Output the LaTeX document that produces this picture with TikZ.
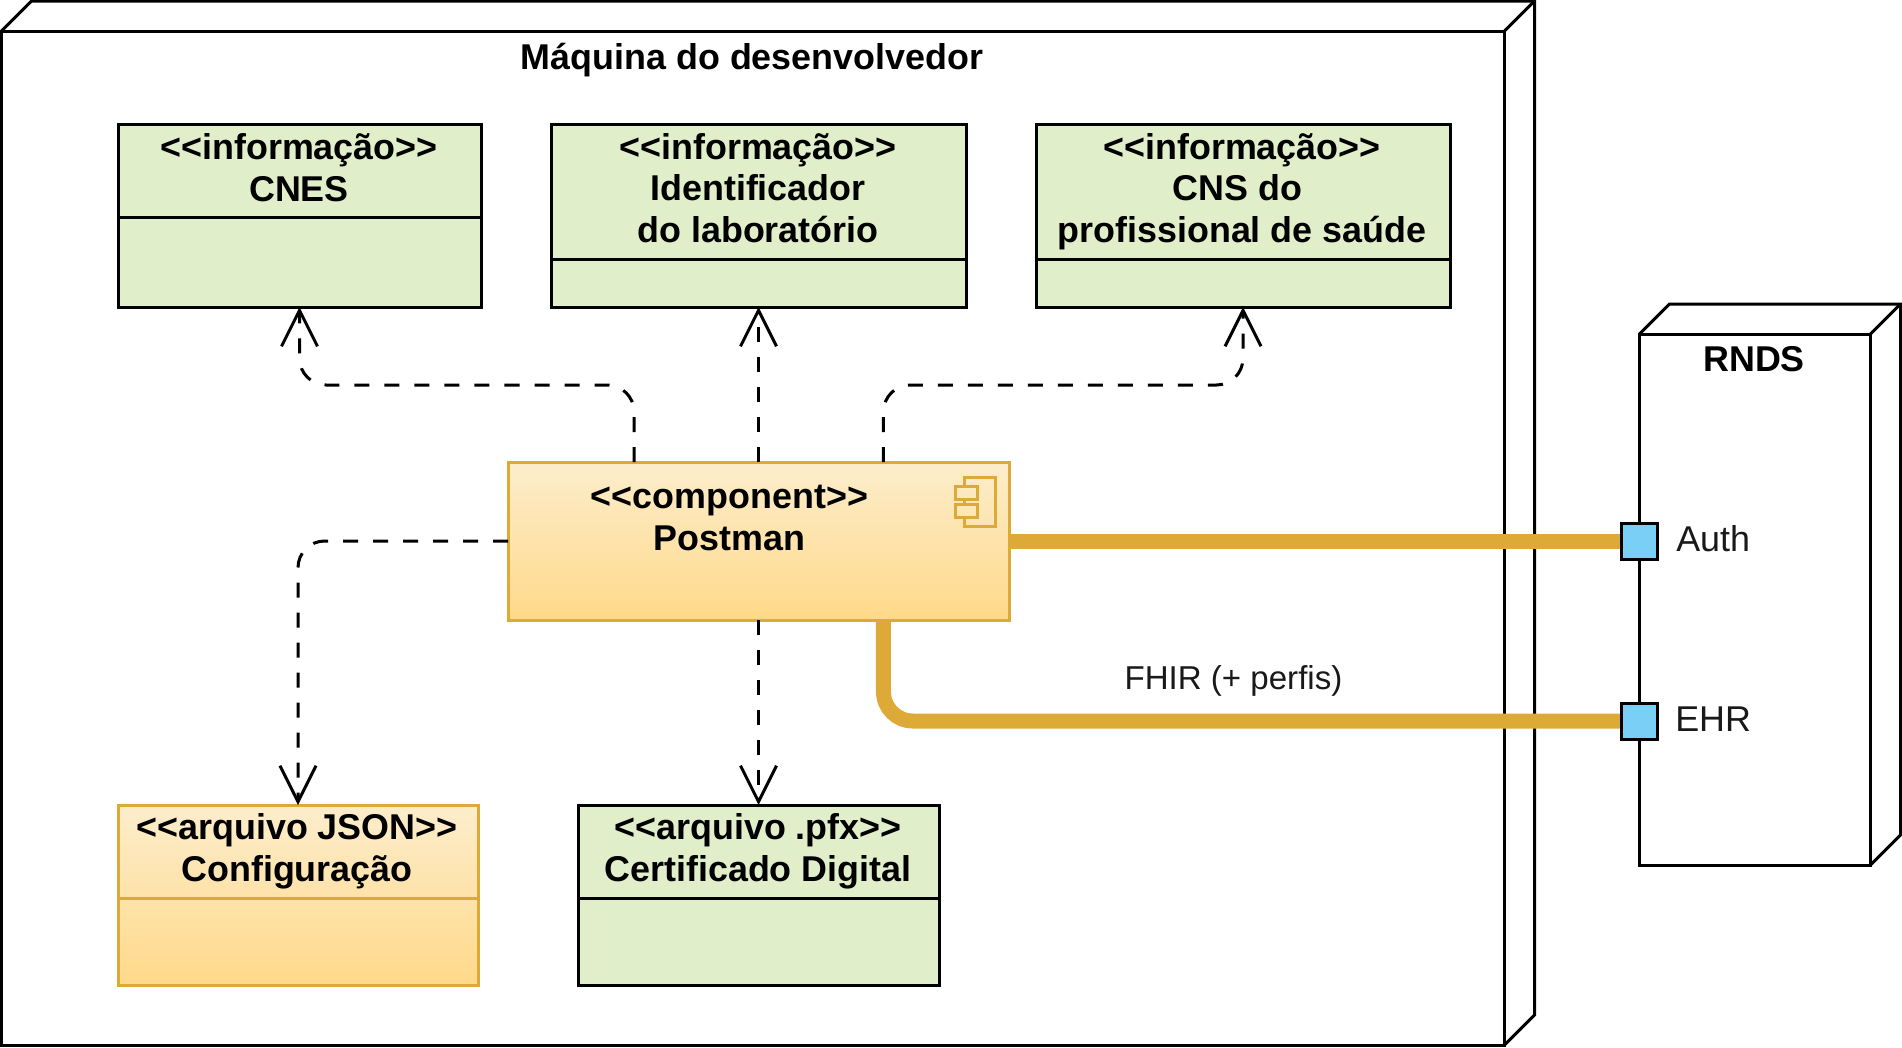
\documentclass[tikz,border=0pt]{standalone}
\usepackage{fontspec}
\setmainfont{Liberation Sans}
\usetikzlibrary{arrows.meta,fit,calc}
\definecolor{gold}{HTML}{DDAA37}
\definecolor{greenfill}{HTML}{E0EECA}
\definecolor{goldtop}{HTML}{FCEDCB}
\definecolor{goldbot}{HTML}{FFD98A}
\definecolor{portblue}{HTML}{79CFF5}
\newcommand{\opn}{<{}<}
\newcommand{\cls}{>{}>}
\newcommand{\uifont}{\fontsize{26.9}{31.4}\selectfont}
\newcommand{\smallui}{\fontsize{24.8}{31.4}\selectfont}
\tikzset{
  x=0.75pt,y=-0.75pt,
  ln/.style={line width=2.25pt,black},
  frame/.style={ln,inner sep=0pt,outer sep=0pt},
  greenbox/.style={frame,draw=black,fill=greenfill},
  goldbox/.style={frame,draw=gold,top color=goldtop,bottom color=goldbot},
  title/.style={font=\uifont\bfseries,align=center,inner sep=0pt,text=black},
  plain/.style={font=\uifont,inner sep=0pt,text=black!90},
  dep/.style={ln,dash pattern=on 11.25pt off 11.25pt,rounded corners=20pt,
    -{Straight Barb[length=27pt,width=27pt]}},
  thick link/.style={line width=11.25pt,gold,rounded corners=22pt},
  port/.style={frame,draw=black,fill=portblue,minimum size=27pt}
}
\begin{document}
\begin{tikzpicture}
\useasboundingbox (0,0) rectangle (1902,1047);
% machine
\node[frame,draw,fit={(1.5,31)(1504.5,1045)}] (machine) {};
\draw[ln,line join=miter] (machine.north west) -- ++(30,-30) -- ($(machine.north east)+(30,-30)$) -- ($(machine.south east)+(30,-30)$) -- (machine.south east);
\draw[ln] (machine.north east) -- ++(30,-30);
\node[title] (machineT) at (752,61.5) {\strut Máquina do desenvolvedor};
% RNDS
\node[frame,draw,fit={(1639.5,334)(1870.5,865)}] (rnds) {};
\draw[ln,line join=miter] (rnds.north west) -- ++(30,-30) -- ($(rnds.north east)+(30,-30)$) -- ($(rnds.south east)+(30,-30)$) -- (rnds.south east);
\draw[ln] (rnds.north east) -- ++(30,-30);
\node[title] (rndsT) at (1754,363.5) {\strut RNDS};
% info boxes
\node[greenbox,fit={(118,124)(481,307)}] (cnes) {};
\draw[ln] (cnes.west |- 0,217.5) -- (cnes.east |- 0,217.5);
\node[title] (cnesT) at (299,172) {\strut\opn informação\cls\\\strut CNES};
\node[greenbox,fit={(551.5,124)(966,307)}] (ident) {};
\draw[ln] (ident.west |- 0,259) -- (ident.east |- 0,259);
\node[title] (identT) at (758,192.5) {\strut\opn informação\cls\\\strut Identificador\\\strut do laboratório};
\node[greenbox,fit={(1036,124)(1450,307)}] (cns) {};
\draw[ln] (cns.west |- 0,259) -- (cns.east |- 0,259);
\node[title] (cnsT) at (1242,192.5) {\strut\opn informação\cls\\\strut CNS do\rule{6.4pt}{0pt}\\\strut profissional de saúde};
% component
\node[goldbox,fit={(508,462)(1009,620)}] (postman) {};
\draw[line width=2.25pt,gold,line cap=butt] (964,486) -- (964,477) -- (995,477) -- (995,526) -- (964,526) -- (964,517);
\draw[line width=2.25pt,gold] (964,499) -- (964,504);
\draw[line width=2.25pt,gold] (955,486) rectangle (977,499);
\draw[line width=2.25pt,gold] (955,504) rectangle (977,517);
\node[title] (postmanT) at (729.5,521.5) {\strut\opn component\cls\\\strut Postman};
% files
\node[goldbox,fit={(118,805)(478,985)}] (config) {};
\draw[line width=2.25pt,gold] (config.west |- 0,898.5) -- (config.east |- 0,898.5);
\node[title] (configT) at (297,852.5) {\strut\opn arquivo JSON\cls\\\strut Configuração};
\node[greenbox,fit={(578.5,805)(939,985)}] (cert) {};
\draw[ln] (cert.west |- 0,898.5) -- (cert.east |- 0,898.5);
\node[title] (certT) at (758,852.5) {\strut\opn arquivo .pfx\cls\\\strut Certificado Digital};
% dependencies
\draw[dep] ([xshift=94.5pt]postman.north west) |- ($(cnes.south)+(0,78)$) -- (cnes.south);
\draw[dep] ([xshift=281.6pt]postman.north west) |- ($(cns.south)+(0,78)$) -- (cns.south);
\draw[dep] (postman.north) -- (postman.north |- ident.south);
\draw[dep] (postman.west) -| (config.north);
\draw[dep] (postman.south) -- (postman.south |- cert.north);
% ports
\node[port] (auth) at (1639.5,541) {};
\node[port] (ehr) at (1639.5,721) {};
\draw[thick link] (postman.east) -- (auth.west);
\draw[thick link] ([xshift=281.6pt]postman.south west) |- (ehr.west);
\node[port] at (auth) {};
\node[port] at (ehr) {};
\node[plain,anchor=west] (authT) at (1676,543.5) {\strut Auth};
\node[plain,anchor=west] (ehrT) at (1675,723.5) {\strut EHR};
\node[plain,font=\smallui] (fhirT) at (1233.5,681) {\strut FHIR (+ perfis)};
\end{tikzpicture}
\end{document}
